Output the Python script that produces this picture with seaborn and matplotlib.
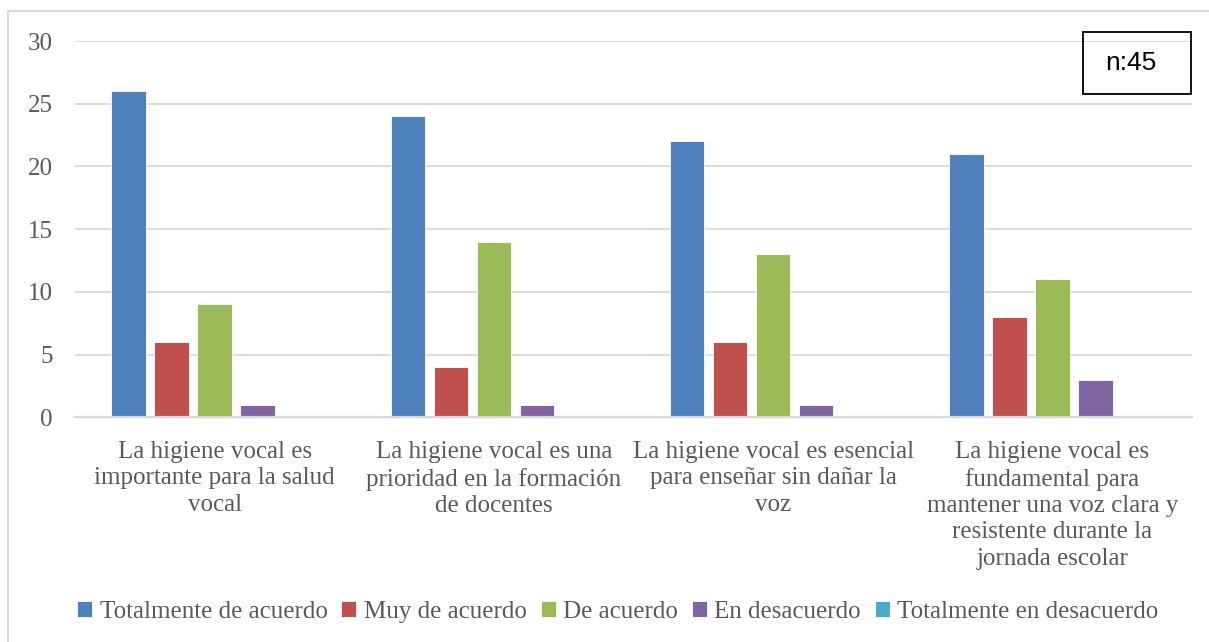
import numpy as np
import pandas as pd
import seaborn as sns
import matplotlib.pyplot as plt
from matplotlib.patches import Rectangle

# Chart data
categories = [
    "La higiene vocal es\nimportante para la salud\nvocal",
    "La higiene vocal es una\nprioridad en la formación\nde docentes",
    "La higiene vocal es esencial\npara enseñar sin dañar la\nvoz",
    "La higiene vocal es\nfundamental para\nmantener una voz clara y\nresistente durante la\njornada escolar",
]
series = ["Totalmente de acuerdo", "Muy de acuerdo", "De acuerdo",
          "En desacuerdo", "Totalmente en desacuerdo"]
totalmente_de_acuerdo = [26, 24, 22, 21]
muy_de_acuerdo = [6, 4, 6, 8]
de_acuerdo = [9, 14, 13, 11]
en_desacuerdo = [1, 1, 1, 3]
totalmente_en_desacuerdo = [0, 0, 0, 0]
yticks = [0, 5, 10, 15, 20, 25, 30]
n_label = "n:45"

colors = ["#4F81BD", "#C0504D", "#9BBB59", "#8064A2", "#4BACC6"]
text_gray = "#595959"
grid_gray = "#D9D9D9"

# long-form table for seaborn
values = [totalmente_de_acuerdo, muy_de_acuerdo, de_acuerdo,
          en_desacuerdo, totalmente_en_desacuerdo]
rows = []
for s, vals in zip(series, values):
    for c, v in zip(categories, vals):
        rows.append({"categoria": c, "respuesta": s, "valor": v})
df = pd.DataFrame(rows)

sns.set_style("white")
plt.rcParams['font.family'] = ['Liberation Serif', 'DejaVu Serif']

fig = plt.figure(figsize=(12.09, 6.42), dpi=100)
ax = fig.add_axes([0.062, 0.350, 0.924, 0.586])

sns.barplot(data=df, x="categoria", y="valor", hue="respuesta",
            order=categories, hue_order=series, palette=colors, saturation=1,
            width=0.77, gap=0.2, edgecolor="white", linewidth=0.6,
            errorbar=None, ax=ax, zorder=3)

ax.set_ylim(0, 30)
ax.set_xlim(-0.5, len(categories) - 0.5)
ax.set_yticks(yticks)
ax.set_xlabel("")
ax.set_ylabel("")
ax.yaxis.grid(True, color=grid_gray, linewidth=1.3, zorder=0)
ax.set_axisbelow(True)
for side in ["left", "right", "top"]:
    ax.spines[side].set_visible(False)
ax.spines["bottom"].set_color(grid_gray)
ax.spines["bottom"].set_linewidth(1.6)
ax.spines["bottom"].set_zorder(5)
ax.tick_params(axis="y", length=0, pad=16, labelsize=18, labelcolor=text_gray)
ax.tick_params(axis="x", length=0, pad=17, labelsize=18, labelcolor=text_gray)
for lbl in ax.get_xticklabels():
    lbl.set_linespacing(1.26)

# legend at the bottom
handles, labels = ax.get_legend_handles_labels()
ax.get_legend().remove()
leg = fig.legend(handles, labels, loc="center", bbox_to_anchor=(0.511, 0.047),
                 ncol=5, frameon=False, fontsize=18, handlelength=0.6,
                 handleheight=0.6, handletextpad=0.3, columnspacing=0.55)
for t in leg.get_texts():
    t.set_color(text_gray)

# n:45 box
fig.patches.append(Rectangle((1083 / 1209, 1 - 94 / 642), 108 / 1209, 62 / 642,
                             transform=fig.transFigure, fill=False,
                             edgecolor="black", linewidth=1.3))
fig.text(1131 / 1209, 1 - 63 / 642, n_label, ha="center", va="center",
         fontsize=19, color="black", family=["Liberation Sans", "DejaVu Sans"])

# outer chart border
fig.patches.append(Rectangle((8 / 1209, -0.1), 1.2, 1.083,
                             transform=fig.transFigure, fill=False,
                             edgecolor=grid_gray, linewidth=1.5))

fig.savefig("out.png", dpi=100)
